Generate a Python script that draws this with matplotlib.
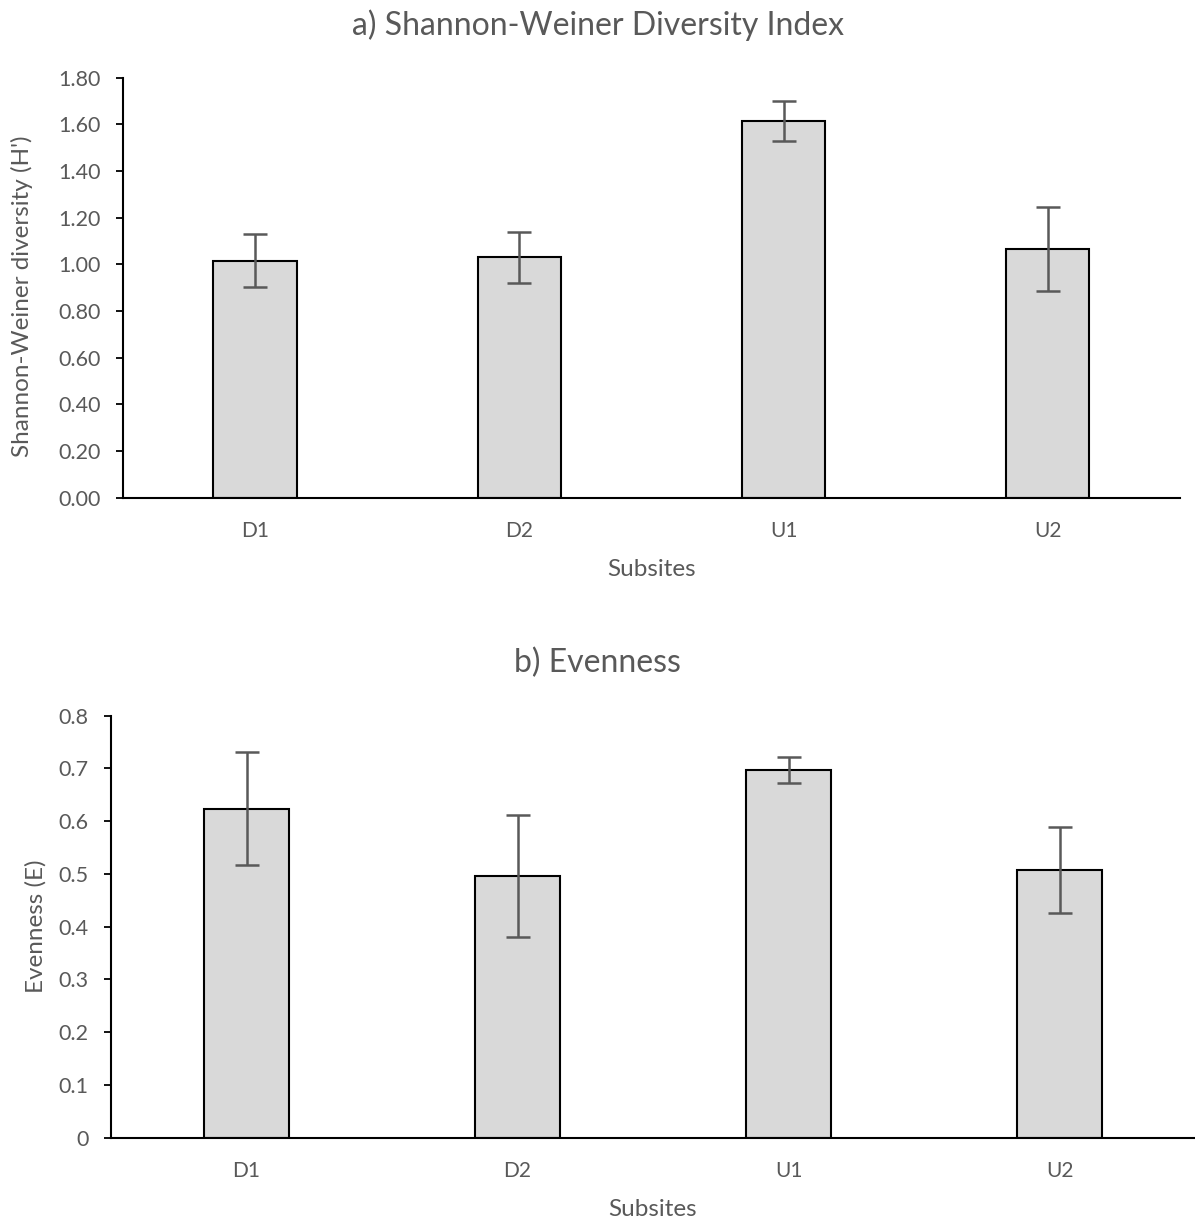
import numpy as np
import matplotlib.pyplot as plt

plt.rcParams['font.family'] = ['Lato', 'DejaVu Sans']

# Subsites and measured values (mean, error)
subsites = ['D1', 'D2', 'U1', 'U2']

shannon = [1.015, 1.030, 1.614, 1.067]
shannon_err = [0.113, 0.110, 0.084, 0.180]

evenness = [0.624, 0.496, 0.697, 0.508]
evenness_err = [0.107, 0.115, 0.024, 0.082]

txt = '#595959'
W, H = 1195, 1221
fig = plt.figure(figsize=(W / 100, H / 100), dpi=100)

ax1 = fig.add_axes([0.1029, 0.5924, 0.8845, 0.3441])
ax2 = fig.add_axes([0.0929, 0.0682, 0.9071, 0.3456])


def draw(ax, vals, errs, ylim, yticks, ylabels):
    x = np.arange(len(subsites))
    ax.bar(x, vals, width=0.315, color='#d9d9d9', edgecolor='black', linewidth=1.5, zorder=2)
    ax.errorbar(x, vals, yerr=errs, fmt='none', ecolor='#595959', elinewidth=1.8,
                capsize=8.5, capthick=1.8, zorder=3)
    ax.set_xlim(-0.5, len(subsites) - 0.5)
    ax.set_ylim(*ylim)
    ax.set_yticks(yticks)
    ax.set_yticklabels(ylabels)
    ax.set_xticks(x)
    ax.set_xticklabels(subsites)
    for s in ['top', 'right']:
        ax.spines[s].set_visible(False)
    for s in ['left', 'bottom']:
        ax.spines[s].set_linewidth(1.5)
        ax.spines[s].set_color('black')
    ax.tick_params(axis='y', direction='out', length=5, width=1.3, colors='black',
                   labelcolor=txt, labelsize=15.5, pad=11)
    ax.tick_params(axis='x', length=0, labelcolor=txt, labelsize=15, pad=16.5)


draw(ax1, shannon, shannon_err, (0, 1.8), np.arange(0, 1.81, 0.2),
     ['{:.2f}'.format(v) for v in np.arange(0, 1.81, 0.2)])
draw(ax2, evenness, evenness_err, (0, 0.8), np.arange(0, 0.81, 0.1),
     ['0'] + ['{:.1f}'.format(v) for v in np.arange(0.1, 0.81, 0.1)])

# titles centred on the figure, axis titles centred on the plot areas
fig.text(0.5, 1 - 35 / H, 'a) Shannon-Weiner Diversity Index', ha='center', va='baseline',
         color=txt, fontsize=23)
fig.text(0.5, 1 - 672 / H, 'b) Evenness', ha='center', va='baseline', color=txt, fontsize=23)

fig.text((123 + 1180) / 2 / W, 1 - 576.5 / H, 'Subsites', ha='center', va='baseline',
         color=txt, fontsize=17.5)
fig.text((111 + 1195) / 2 / W, 1 - 1216 / H, 'Subsites', ha='center', va='baseline',
         color=txt, fontsize=17.5)

fig.text(22 / W, 1 - 296 / H, "Shannon-Weiner diversity (H')", rotation=90,
         ha='center', va='center', color=txt, fontsize=17.5)
fig.text(36 / W, 1 - 926.5 / H, 'Evenness (E)', rotation=90,
         ha='center', va='center', color=txt, fontsize=17.5)

fig.savefig('out.png', dpi=100)
